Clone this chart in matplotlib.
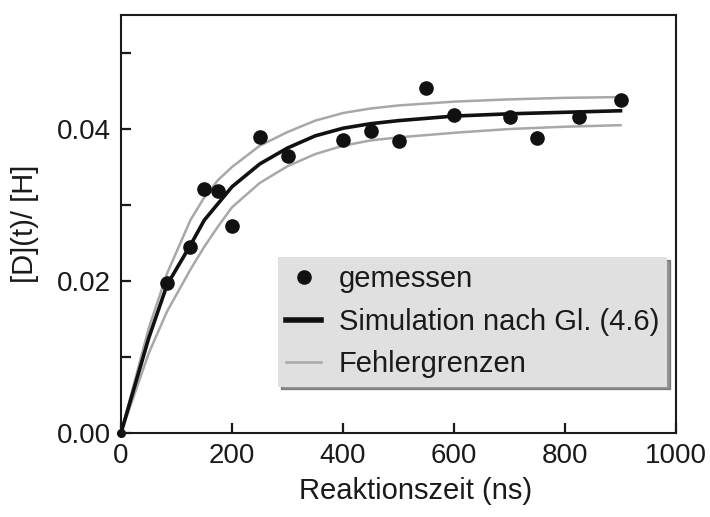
import matplotlib
matplotlib.use("Agg")
import matplotlib.pyplot as plt
from matplotlib.lines import Line2D

plt.rcParams['font.family'] = ['Liberation Sans', 'DejaVu Sans']

# measured data
t_meas = [0, 83, 125, 150, 175, 200, 250, 300, 400, 450, 500, 550, 600, 700, 750, 825, 900]
c_meas = [0.0, 0.0197, 0.0245, 0.0321, 0.0319, 0.0272, 0.0389, 0.0365, 0.0386, 0.0397,
          0.0384, 0.0454, 0.0419, 0.0416, 0.0388, 0.0416, 0.0438]

# simulation and error bounds
t_sim = [0, 50, 83, 125, 150, 175, 200, 250, 300, 350, 400, 450, 500, 600, 700, 800, 900]
c_sim = [0.0, 0.0125, 0.0195, 0.0247, 0.0280, 0.0302, 0.0324, 0.0354, 0.0375, 0.0391,
         0.0401, 0.0407, 0.0411, 0.0417, 0.0420, 0.0422, 0.0424]
c_upper = [0.0, 0.0138, 0.0210, 0.0280, 0.0310, 0.0333, 0.0350, 0.0378, 0.0396, 0.0411,
           0.0421, 0.0427, 0.0431, 0.0436, 0.0439, 0.0441, 0.0442]
c_lower = [0.0, 0.0105, 0.0160, 0.0215, 0.0245, 0.0272, 0.0297, 0.0329, 0.0351, 0.0367,
           0.0378, 0.0385, 0.0389, 0.0395, 0.0400, 0.0403, 0.0405]

x_ticks = [0, 200, 400, 600, 800, 1000]
y_ticks = [0.00, 0.01, 0.02, 0.03, 0.04, 0.05]
y_ticklabels = ['0.00', '', '0.02', '', '0.04', '']

labels = ['gemessen', 'Simulation nach Gl. (4.6)', 'Fehlergrenzen']

fig = plt.figure(figsize=(7.1, 5.17), dpi=100)
ax = fig.add_axes([121/710, 84/517, 555/710, 418/517])

gray = '#a8a8a8'
ax.plot(t_sim, c_upper, color=gray, lw=1.8, zorder=2)
ax.plot(t_sim, c_lower, color=gray, lw=1.8, zorder=2)
ax.plot(t_sim, c_sim, color='#111111', lw=2.6, zorder=3)
ax.plot(t_meas[1:], c_meas[1:], 'o', color='#111111', ms=9.5, zorder=4, clip_on=False)
ax.plot(t_meas[:1], c_meas[:1], 'o', color='#111111', ms=5.5, zorder=4, clip_on=False)

ax.set_xlim(0, 1000)
ax.set_ylim(0, 0.055)
ax.set_xticks(x_ticks)
ax.set_yticks(y_ticks)
ax.set_yticklabels(y_ticklabels)

for s in ax.spines.values():
    s.set_linewidth(1.5)
    s.set_color('#1a1a1a')

ax.tick_params(direction='in', length=7, width=1.6, color='#1a1a1a',
               labelsize=20, labelcolor='#1a1a1a', top=False, right=False)
ax.tick_params(axis='x', pad=7)
ax.tick_params(axis='y', pad=7)

ax.set_xlabel('Reaktionszeit (ns)', fontsize=21, color='#1a1a1a')
ax.xaxis.set_label_coords(0.53, -0.105)
ax.set_ylabel('[D](t)/ [H]', fontsize=21, color='#1a1a1a')
ax.yaxis.set_label_coords(-0.148, 0.5)

handles = [
    Line2D([], [], marker='o', ls='none', color='#111111', ms=9.5),
    Line2D([], [], color='#111111', lw=4),
    Line2D([], [], color=gray, lw=1.8),
]
leg = ax.legend(handles, labels, loc='upper left', bbox_to_anchor=(0.283, 0.421),
                fontsize=21, frameon=True, fancybox=False, shadow={'shade': 0.8},
                facecolor='#e0e0e0', edgecolor='none', framealpha=1,
                handlelength=1.2, handletextpad=0.6, labelspacing=0.5,
                borderpad=0.28, borderaxespad=0)
for txt in leg.get_texts():
    txt.set_color('#1a1a1a')

fig.savefig('out.png', dpi=100)
